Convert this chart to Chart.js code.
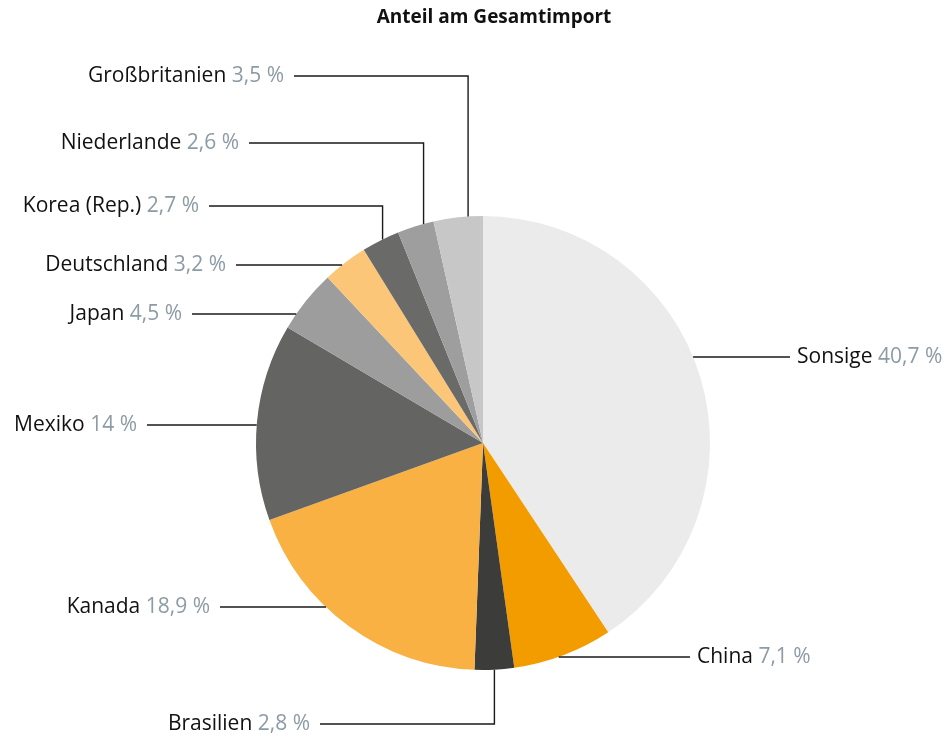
<!DOCTYPE html>
<html>
<head>
<meta charset="utf-8">
<script src="https://cdn.jsdelivr.net/npm/chart.js@4"></script>
<style>
  html, body { margin: 0; padding: 0; background: #fff; }
  #wrap { width: 951px; height: 740px; }
</style>
</head>
<body>
<div id="wrap"><canvas id="pie" width="951" height="740"></canvas></div>
<script>
// Anteil am Gesamtimport, in %, clockwise from top
const laender = ['Sonsige','China','Brasilien','Kanada','Mexiko','Japan','Deutschland','Korea (Rep.)','Niederlande','Großbritanien'];
const anteile = [40.7, 7.1, 2.8, 18.9, 14, 4.5, 3.2, 2.7, 2.6, 3.5];
const farben  = ['#ebebeb','#f39c00','#3c3c3b','#f8b142','#646463','#9c9d9c','#fbc677','#6a6a69','#9d9e9d','#c6c7c6'];

// label placement: y of the label line, x of its outer end, side, and whether the leader bends to the slice
// (shift = sideways nudge of the bent leader away from the slice middle)
const beschriftung = [
  { y: 357, x: 790, side: 'r', bend: false },
  { y: 657, x: 690, side: 'r', bend: false },
  { y: 724, x: 320, side: 'l', bend: true, shift: 0 },
  { y: 607, x: 220, side: 'l', bend: false },
  { y: 425, x: 147, side: 'l', bend: false },
  { y: 314, x: 192, side: 'l', bend: false },
  { y: 265, x: 236, side: 'l', bend: false },
  { y: 206, x: 209, side: 'l', bend: true, shift: 2 },
  { y: 143, x: 249, side: 'l', bend: true, shift: 8 },
  { y: 76,  x: 294, side: 'l', bend: true, shift: 10 }
];

const FONT = "'Open Sans', sans-serif";

const labelPlugin = {
  id: 'labels',
  afterDatasetsDraw(chart) {
    const c = chart.ctx;
    const arcs = chart.getDatasetMeta(0).data;
    c.save();
    // title
    c.font = "bold 19px " + FONT;
    c.fillStyle = '#111';
    c.textAlign = 'center'; c.textBaseline = 'middle';
    c.fillText('Anteil am Gesamtimport', 494, 18);

    c.strokeStyle = '#1a1a1a'; c.lineWidth = 1.4;
    arcs.forEach((a, i) => {
      const L = beschriftung[i];
      const cx = a.x, cy = a.y, r = a.outerRadius;
      const mid = (a.startAngle + a.endAngle) / 2;
      c.beginPath();
      c.moveTo(L.x, L.y);
      if (L.bend) {
        const vx = cx + r * Math.cos(mid) + L.shift;
        const h = Math.sqrt(Math.max(0, r * r - (vx - cx) * (vx - cx)));
        const vy = L.y < cy ? cy - h : cy + h;
        c.lineTo(vx, L.y); c.lineTo(vx, vy);
      } else {
        const dy = L.y - cy;
        const dx = Math.sqrt(Math.max(0, r * r - dy * dy));
        c.lineTo(L.side === 'r' ? cx + dx : cx - dx, L.y);
      }
      c.stroke();

      const name = laender[i] + ' ';
      const val = anteile[i].toLocaleString('de-DE') + ' %';
      c.font = "21px " + FONT;
      c.textBaseline = 'middle'; c.textAlign = 'left';
      const wn = c.measureText(name).width, wv = c.measureText(val).width;
      const x0 = L.side === 'r' ? L.x + 7 : L.x - 10 - wn - wv;
      c.fillStyle = '#111';
      c.fillText(name, x0, L.y);
      c.fillStyle = '#8c9ba5';
      c.fillText(val, x0 + wn, L.y);
    });
    c.restore();
  }
};

new Chart(document.getElementById('pie'), {
  type: 'pie',
  data: {
    labels: laender,
    datasets: [{ data: anteile, backgroundColor: farben, borderWidth: 0 }]
  },
  options: {
    responsive: false, animation: false,
    layout: { padding: { left: 256, right: 241, top: 216, bottom: 70 } },
    plugins: { legend: { display: false }, title: { display: false }, tooltip: { enabled: false } }
  },
  plugins: [labelPlugin]
});
</script>
</body>
</html>
